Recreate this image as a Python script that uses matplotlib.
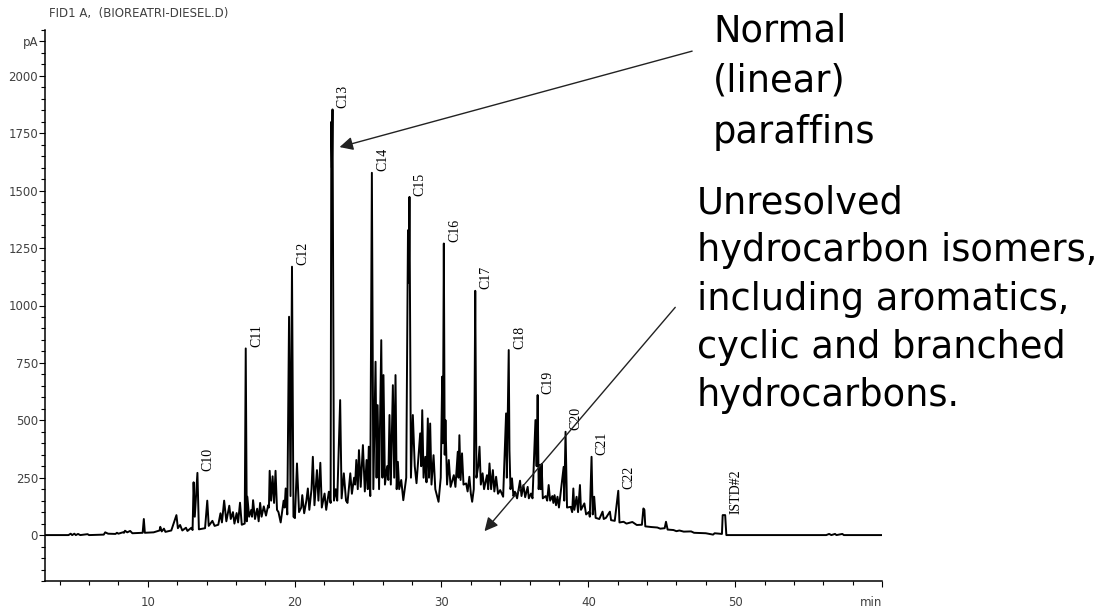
import numpy as np
import matplotlib.pyplot as plt
from matplotlib.ticker import MultipleLocator

# labelled n-alkane peaks (retention time in min, signal in pA)
alkane_names = ['C10', 'C11', 'C12', 'C13', 'C14', 'C15', 'C16', 'C17',
                'C18', 'C19', 'C20', 'C21', 'C22', 'ISTD#2']
alkane_t = [13.38, 16.67, 19.82, 22.58, 25.26, 27.82, 30.16, 32.3,
            34.58, 36.55, 38.45, 40.22, 42.04, 49.32]
alkane_h = [271, 813, 1169, 1854, 1578, 1473, 1270, 1064,
            806, 610, 450, 341, 193, 87]

# other peak tops
peak_t = [4.75, 5.0, 5.25, 5.9, 7.1, 7.9, 8.3, 8.45, 8.8, 9.73, 10.85, 11.1,
          11.95, 12.2, 12.6, 12.97, 13.12, 14.05, 14.4, 14.95, 15.2, 15.55,
          15.8, 16.05, 16.28, 16.78, 17.05, 17.17, 17.45, 17.65, 17.9, 18.2,
          18.3, 18.5, 18.7, 19.25, 19.39, 19.62, 20.16, 20.52, 20.9, 21.24,
          21.52, 21.75, 22.04, 22.33, 22.5, 22.8, 23.1, 23.35, 23.79, 24.05,
          24.2, 24.38, 24.65, 24.9, 25.05, 25.51, 25.65, 25.9, 26.05, 26.3,
          26.46, 26.69, 26.87, 27.03, 27.26, 27.72, 28.05, 28.55, 28.69, 28.9,
          29.07, 29.23, 29.46, 30.05, 30.27, 30.5, 30.84, 31.11, 31.22, 31.4,
          31.68, 31.9, 32.25, 32.59, 32.8, 33.1, 33.27, 33.5, 33.72, 34.0,
          34.4, 34.63, 34.8, 35.0, 35.35, 35.58, 35.87, 36.1, 36.4, 36.71,
          36.82, 37.1, 37.3, 37.55, 37.7, 37.9, 38.32, 38.98, 39.2, 39.43,
          39.73, 40.05, 40.4, 40.97, 41.47, 42.4, 43.0, 43.75, 43.82, 44.3,
          45.29, 46.2, 47.0, 48.6, 49.15, 56.4, 56.8, 57.3]
peak_h = [6, 6, 5, 4, 12, 10, 12, 19, 18, 70, 36, 28,
          87, 44, 32, 32, 230, 150, 62, 95, 150, 128,
          100, 96, 141, 167, 110, 152, 115, 140, 125, 130,
          280, 256, 280, 150, 203, 951, 312, 174, 203, 341,
          283, 315, 181, 189, 1800, 200, 588, 269, 269, 250,
          327, 370, 392, 327, 385, 755, 566, 849, 697, 300,
          523, 653, 697, 319, 240, 1328, 523, 443, 544, 341,
          508, 486, 348, 690, 501, 327, 261, 363, 435, 356,
          225, 254, 544, 385, 269, 261, 312, 283, 254, 196,
          530, 370, 247, 189, 237, 218, 210, 181, 501, 305,
          310, 170, 218, 170, 174, 167, 297, 203, 167, 218,
          138, 101, 167, 102, 102, 58, 57, 116, 110, 35,
          58, 20, 16, 8, 87, 5, 5, 5]

# valleys between peaks (lower envelope of the trace)
valley_t = [3.0, 4.6, 4.85, 5.1, 5.4, 6.0, 7.0, 7.3, 7.8, 8.0, 8.38, 8.6,
            8.95, 9.65, 9.8, 10.4, 10.8, 10.95, 11.2, 11.6, 12.05, 12.35,
            12.7, 13.05, 13.2, 13.48, 13.9, 14.15, 14.55, 14.8, 15.05, 15.35,
            15.65, 15.9, 16.15, 16.4, 16.6, 16.74, 16.9, 17.1, 17.3, 17.55,
            17.75, 18.05, 18.25, 18.4, 18.6, 18.8, 18.9, 19.05, 19.32, 19.5,
            19.72, 19.92, 20.02, 20.3, 20.45, 20.65, 20.8, 21.0, 21.15, 21.35,
            21.62, 21.85, 22.15, 22.45, 22.54, 22.68, 22.9, 23.2, 23.5, 23.6,
            23.9, 24.12, 24.3, 24.5, 24.78, 24.98, 25.15, 25.36, 25.58, 25.75,
            25.98, 26.15, 26.38, 26.55, 26.78, 26.95, 27.12, 27.4, 27.6, 27.78,
            27.92, 28.18, 28.3, 28.62, 28.78, 28.98, 29.15, 29.32, 29.58, 29.8,
            29.95, 30.1, 30.22, 30.38, 30.62, 30.95, 31.16, 31.3, 31.5, 31.78,
            32.0, 32.09, 32.2, 32.38, 32.5, 32.68, 32.9, 33.18, 33.38, 33.6,
            33.85, 34.2, 34.45, 34.7, 34.9, 35.15, 35.45, 35.7, 35.95, 36.2,
            36.48, 36.62, 36.76, 36.9, 37.2, 37.4, 37.62, 37.8, 38.0, 38.36,
            38.55, 38.8, 38.9, 39.05, 39.3, 39.5, 39.85, 40.1, 40.3, 40.5,
            40.75, 41.05, 41.2, 41.55, 41.8, 42.12, 42.6, 43.3, 43.65, 43.88,
            44.7, 44.9, 45.2, 45.4, 45.8, 46.0, 46.5, 47.2, 48.0, 48.5,
            49.1, 49.4, 56.2, 56.55, 56.9, 57.4, 60.0]
valley_v = [0, 0, 0, 0, 0, 0, 2, 6, 5, 6, 10, 12,
            8, 10, 10, 12, 20, 16, 14, 20, 30, 20,
            18, 22, 80, 25, 30, 40, 40, 45, 55, 60,
            70, 50, 55, 45, 50, 60, 80, 80, 70, 60,
            80, 85, 120, 150, 140, 110, 100, 55, 120, 90,
            170, 80, 74, 100, 120, 95, 150, 110, 200, 130,
            150, 120, 110, 140, 1600, 150, 150, 160, 150, 140,
            180, 220, 200, 210, 190, 200, 170, 200, 250, 200,
            250, 220, 240, 220, 250, 200, 200, 152, 250, 1100,
            250, 300, 226, 300, 250, 230, 250, 220, 200, 145,
            250, 400, 350, 220, 210, 210, 250, 240, 220, 190,
            180, 145, 200, 250, 300, 220, 200, 200, 200, 190,
            180, 167, 250, 200, 170, 160, 170, 165, 160, 160,
            300, 200, 200, 160, 150, 150, 140, 130, 120, 150,
            120, 123, 100, 110, 100, 110, 90, 80, 90, 75,
            70, 70, 75, 65, 62, 55, 50, 44, 45, 38,
            33, 28, 30, 24, 22, 17, 15, 10, 8, 2,
            5, 0, 0, 0, 0, 0, 0]

t = np.concatenate([alkane_t, peak_t, valley_t])
v = np.concatenate([alkane_h, peak_h, valley_v])
order = np.argsort(t, kind='stable')

W, H = 1102, 616
fig = plt.figure(figsize=(W / 100, H / 100), dpi=100)
ax = fig.add_axes([45 / W, 35 / H, 837 / W, 551 / H])

ax.plot(t[order], v[order], color='black', lw=1.4)

ax.set_xlim(3, 60)
ax.set_ylim(-200, 2200)
for s in ['top', 'right']:
    ax.spines[s].set_visible(False)
for s in ['left', 'bottom']:
    ax.spines[s].set_linewidth(1.1)

ax.set_xticks([10, 20, 30, 40, 50, 60])
ax.set_xticklabels(['10', '20', '30', '40', '50', 'min'])
ax.get_xticklabels()[-1].set_horizontalalignment('right')
ax.xaxis.set_minor_locator(MultipleLocator(2))
ax.set_yticks([0, 250, 500, 750, 1000, 1250, 1500, 1750, 2000, 2150])
ax.set_yticklabels(['0', '250', '500', '750', '1000', '1250', '1500',
                    '1750', '2000', 'pA'])
ax.yaxis.set_minor_locator(MultipleLocator(50))
ax.tick_params(which='both', direction='out', width=0.8, colors='black',
               labelcolor='#404040', labelsize=8.5)
ax.tick_params(which='major', length=4)
ax.tick_params(which='minor', length=3)
ax.tick_params(axis='x', pad=7)
ax.tick_params(axis='y', pad=1)

for name, x, y in zip(alkane_names, alkane_t, alkane_h):
    ax.annotate(name, (x, y), xytext=(3, 1), textcoords='offset points',
                rotation=90, ha='left', va='bottom',
                family='Liberation Serif', fontsize=10)

fig.text(49 / W, 1 - 14 / H, 'FID1 A,  (BIOREATRI-DIESEL.D)',
         ha='left', va='center', fontsize=8.5, color='#404040')

fig.text(713 / W, 1 - 12 / H, 'Normal\n(linear)\nparaffins',
         ha='left', va='top', fontsize=26.5, linespacing=1.48)
fig.text(697 / W, 1 - 184 / H,
         'Unresolved\nhydrocarbon isomers,\nincluding aromatics,\n'
         'cyclic and branched\nhydrocarbons.',
         ha='left', va='top', fontsize=26.5, linespacing=1.39)

arrow = dict(arrowstyle='-|>', color='#222222', lw=1.0, mutation_scale=20,
             shrinkA=0, shrinkB=0)
ax.annotate('', xy=(23.06, 1690), xytext=(47.07, 2108), arrowprops=arrow)
ax.annotate('', xy=(32.93, 17), xytext=(45.92, 992), arrowprops=arrow)

fig.savefig('out.png', dpi=100)
